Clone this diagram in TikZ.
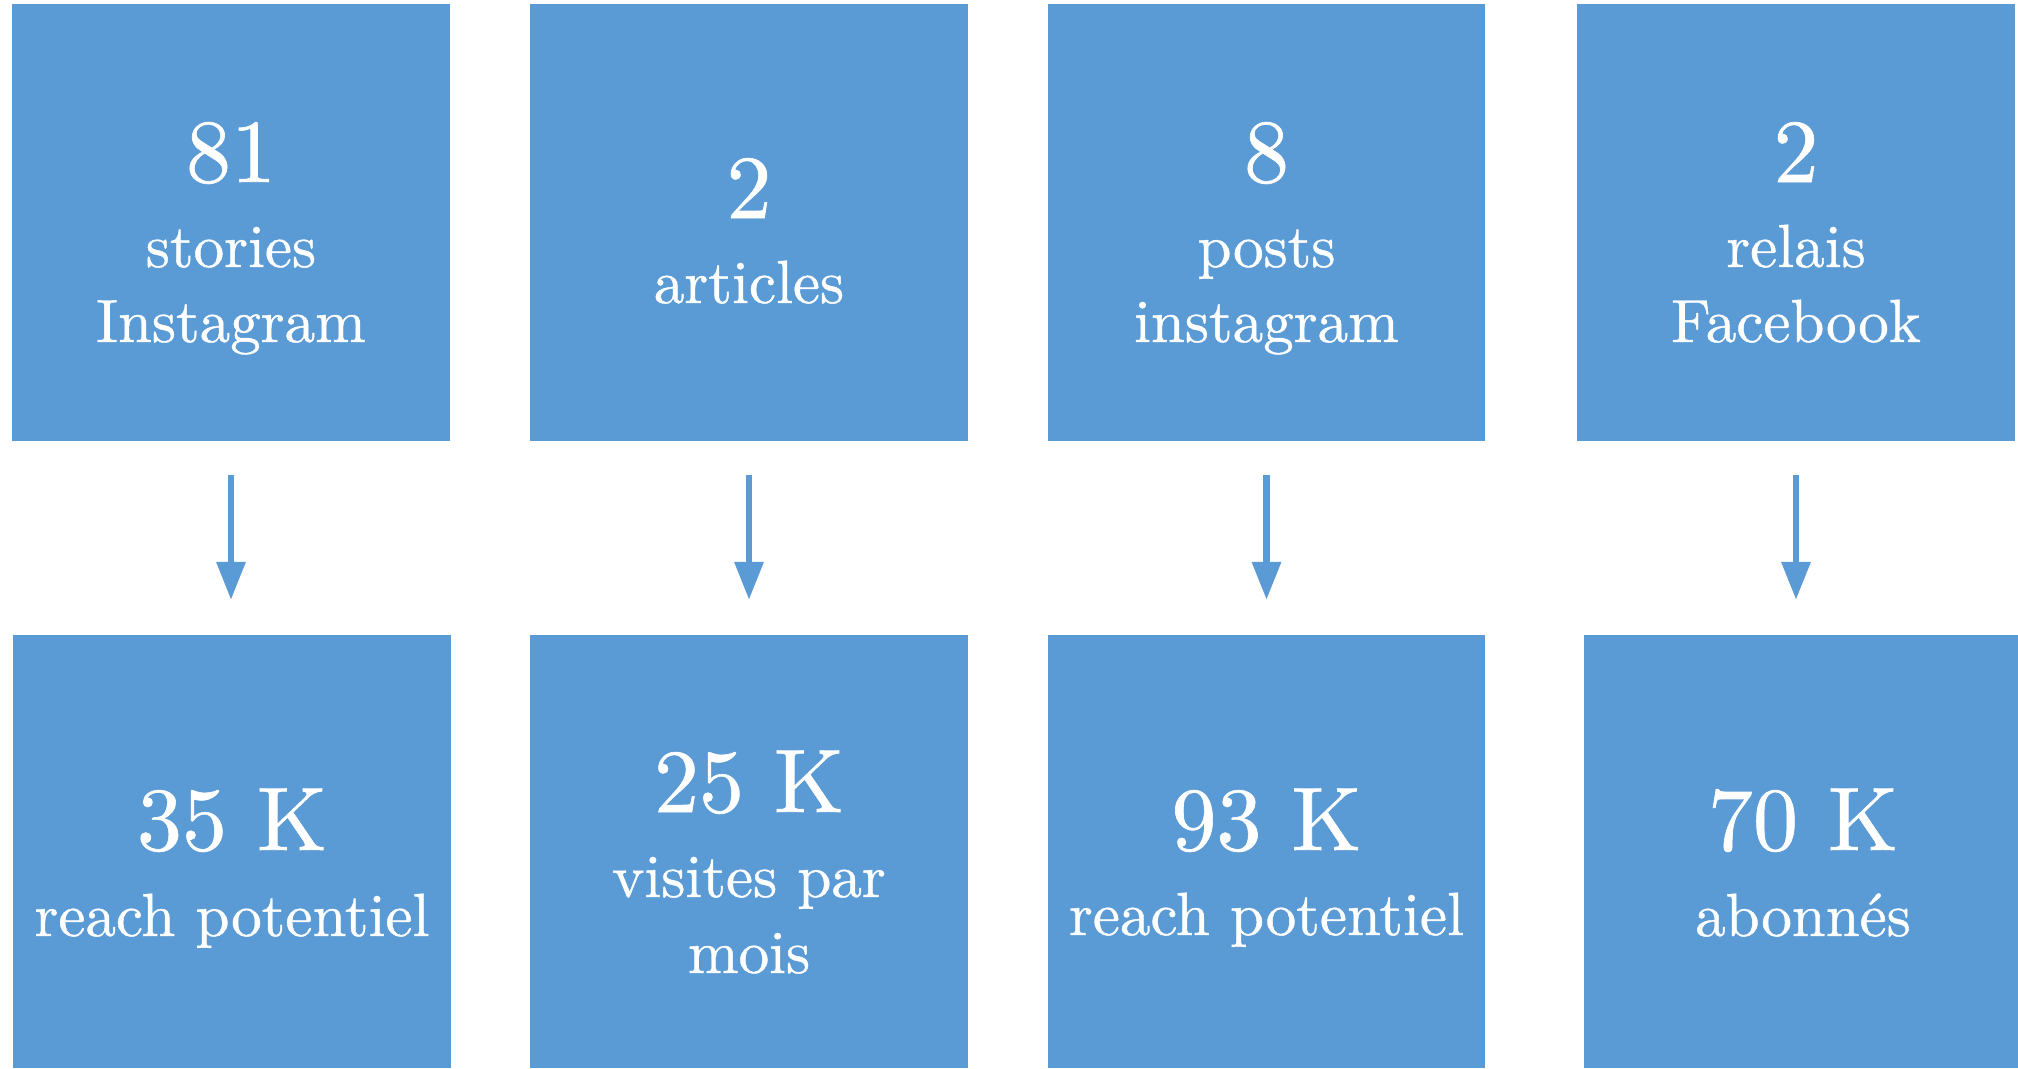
\documentclass[tikz,border=0pt]{standalone}
\usepackage{fontspec}
\setmainfont{lmroman10-regular.otf}[FakeBold=0.7]
\usetikzlibrary{arrows.meta}
\definecolor{tileblue}{HTML}{5B9BD5}
\begin{document}
\begin{tikzpicture}[x=1pt,y=-1pt,
  tile/.style={fill=tileblue, draw=none, inner sep=0pt},
  toptile/.style={tile, minimum width=438pt, minimum height=437pt},
  bottile/.style={tile, minimum width=438pt, minimum height=433pt},
  big/.style={text=white, anchor=base, inner sep=0pt, font=\fontsize{90}{100}\selectfont},
  small/.style={text=white, anchor=base, inner sep=0pt, font=\fontsize{61}{70}\selectfont},
  flow/.style={draw=tileblue, line width=6.5pt, -{Triangle[width=28pt,length=38pt]},
    shorten <=34pt, shorten >=35pt}
]
\useasboundingbox (0,0) rectangle (2018,1068);

% upper row: what was published
\node[toptile] (t1) at (231,222.5) {};
\node[toptile] (t2) at (749,222.5) {};
\node[toptile, minimum width=437pt] (t3) at (1266.5,222.5) {};
\node[toptile] (t4) at (1796,222.5) {};

% lower row: the resulting audience
\node[bottile] (b1) at (232,851.5) {};
\node[bottile] (b2) at (749,851.5) {};
\node[bottile, minimum width=437pt] (b3) at (1266.5,851.5) {};
\node[bottile, minimum width=434pt] (b4) at (1801,851.5) {};

% labels of the upper row
\node[big]   (t1a) at (231,182) {81};
\node[small] (t1b) at (231,267) {stories};
\node[small] (t1c) at (231,342) {Instagram};

\node[big]   (t2a) at (749,218) {2};
\node[small] (t2b) at (749,303) {articles};

\node[big]   (t3a) at (1266.5,182) {8};
\node[small] (t3b) at (1266.5,267) {posts};
\node[small] (t3c) at (1266.5,342) {instagram};

\node[big]   (t4a) at (1796,182) {2};
\node[small] (t4b) at (1796,267) {relais};
\node[small] (t4c) at (1796,342) {Facebook};

% labels of the lower row
\node[big]   (b1a) at (232,850) {35 K};
\node[small] (b1b) at (232,936) {reach potentiel};

\node[big]   (b2a) at (749,812) {25 K};
\node[small] (b2b) at (749,897) {visites par};
\node[small] (b2c) at (749,973) {mois};

\node[big]   (b3a) at (1266.5,850) {93 K};
\node[small] (b3b) at (1266.5,935) {reach potentiel};

\node[big]   (b4a) at (1803,850) {70 K};
\node[small] (b4b) at (1803,936) {abonnés};

% arrows between the rows
\draw[flow] (t1.south) -- (t1.south |- b1.north);
\draw[flow] (t2.south) -- (t2.south |- b2.north);
\draw[flow] (t3.south) -- (t3.south |- b3.north);
\draw[flow] (t4.south) -- (t4.south |- b4.north);
\end{tikzpicture}
\end{document}
